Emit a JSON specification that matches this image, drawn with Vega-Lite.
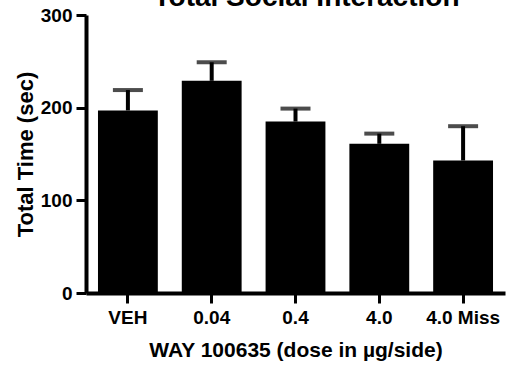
{
  "$schema": "https://vega.github.io/schema/vega-lite/v6.json",
  "width": 419,
  "height": 278,
  "autosize": "none",
  "padding": {"left": 86, "top": 15, "right": 3, "bottom": 75},
  "background": "white",
  "data": {
    "values": [
      {"dose": "VEH", "mean": 197, "upper": 219},
      {"dose": "0.04", "mean": 229, "upper": 249},
      {"dose": "0.4", "mean": 185, "upper": 199},
      {"dose": "4.0", "mean": 161, "upper": 172},
      {"dose": "4.0 Miss", "mean": 143, "upper": 180}
    ]
  },
  "encoding": {
    "x": {
      "field": "dose",
      "type": "nominal",
      "sort": null,
      "scale": {"type": "band", "paddingInner": 0.286, "paddingOuter": 0.143},
      "axis": {
        "title": "WAY 100635 (dose in µg/side)",
        "labelAngle": 0,
        "labelFontSize": 19,
        "labelFont": "Liberation Sans",
        "labelFontWeight": "bold",
        "labelColor": "black",
        "labelPadding": 5,
        "titleFontSize": 21,
        "titleFont": "Liberation Sans",
        "titleFontWeight": "bold",
        "titleColor": "black",
        "titlePadding": 12,
        "domainColor": "black",
        "domainWidth": 4,
        "tickColor": "black",
        "tickWidth": 3,
        "tickSize": 10
      }
    }
  },
  "layer": [
    {
      "mark": {"type": "rule", "strokeWidth": 4, "color": "black"},
      "encoding": {
        "y": {"field": "mean", "type": "quantitative"},
        "y2": {"field": "upper"}
      }
    },
    {
      "mark": {"type": "bar", "color": "black"},
      "encoding": {
        "y": {
          "field": "mean",
          "type": "quantitative",
          "scale": {"domain": [0, 300], "nice": false},
          "axis": {
            "title": "Total Time (sec)",
            "values": [0, 100, 200, 300],
            "grid": false,
            "labelFontSize": 19,
            "labelFont": "Liberation Sans",
            "labelFontWeight": "bold",
            "labelColor": "black",
            "labelPadding": 4,
            "titleFontSize": 22,
            "titleFont": "Liberation Sans",
            "titleFontWeight": "bold",
            "titleColor": "black",
            "titlePadding": 3,
            "domainColor": "black",
            "domainWidth": 4,
            "tickColor": "black",
            "tickWidth": 3,
            "tickSize": 10
          }
        }
      }
    },
    {
      "mark": {"type": "tick", "thickness": 4, "size": 30, "color": "black", "orient": "horizontal"},
      "encoding": {
        "y": {"field": "upper", "type": "quantitative"}
      }
    },
    {
      "data": {"values": [{"label": "Total Social Interaction"}]},
      "mark": {
        "type": "text",
        "font": "Liberation Sans",
        "fontWeight": "bold",
        "fontSize": 28,
        "color": "black",
        "align": "center",
        "baseline": "alphabetic",
        "dx": 11,
        "clip": false
      },
      "encoding": {
        "text": {"field": "label"},
        "x": {"value": {"expr": "width / 2"}},
        "y": {"datum": 310, "type": "quantitative"}
      }
    }
  ],
  "config": {
    "view": {"stroke": null},
    "axis": {"grid": false}
  }
}
